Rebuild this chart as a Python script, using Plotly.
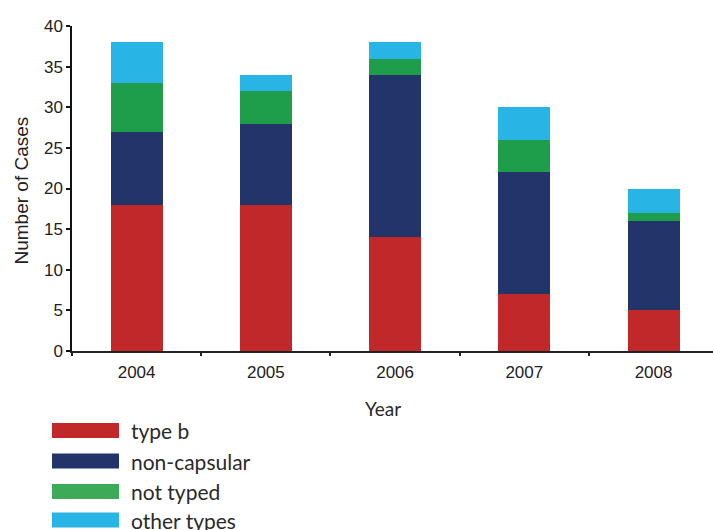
import plotly.graph_objects as go

# Cases by year, stacked by serotype group
years = ["2004", "2005", "2006", "2007", "2008"]
type_b = [18, 18, 14, 7, 5]
non_capsular = [9, 10, 20, 15, 11]
not_typed = [6, 4, 2, 4, 1]
other_types = [5, 2, 2, 4, 3]

series_names = ["type b", "non-capsular", "not typed", "other types"]
series_values = [type_b, non_capsular, not_typed, other_types]
series_colors = ["#C1282A", "#22346A", "#1E9E4A", "#28B4E4"]
legend_colors = ["#C1282A", "#22346A", "#3CAA56", "#28B4E4"]

y_ticks = [0, 5, 10, 15, 20, 25, 30, 35, 40]

W, H = 713, 530
L, R, T, B = 72, 0, 26, 179
plot_w = W - L - R
plot_h = H - T - B


def px_x(px):
    return (px - L) / plot_w


def px_y(py):
    return (H - B - py) / plot_h


fig = go.Figure()
for name, vals, col in zip(series_names, series_values, series_colors):
    fig.add_trace(go.Bar(
        x=years, y=vals, name=name,
        marker=dict(color=col, line=dict(width=0)),
        showlegend=False,
    ))

axis_font = dict(family="Liberation Sans, Arial, sans-serif", size=17, color="#222222")
label_font = dict(family="Lato, sans-serif", size=21, color="#2a2a2a")

fig.update_layout(
    width=W, height=H,
    margin=dict(l=L, r=R, t=T, b=B),
    paper_bgcolor="white", plot_bgcolor="white",
    barmode="stack", bargap=0.597,
    xaxis=dict(
        type="category", range=[-0.5, 4.46],
        showline=True, linecolor="#222222", linewidth=2,
        ticks="outside", tickson="boundaries", ticklen=3, tickwidth=2,
        tickcolor="#222222", tickfont=axis_font, ticklabelstandoff=5,
        showgrid=False, zeroline=False,
    ),
    yaxis=dict(
        range=[0, 40], tickvals=y_ticks,
        showline=True, linecolor="#111111", linewidth=1.5,
        ticks="outside", ticklen=4, tickwidth=1.5, tickcolor="#111111",
        tickfont=axis_font, showgrid=False, zeroline=False,
    ),
)

annotations = [
    dict(text="Number of Cases", textangle=-90,
         x=px_x(20.5), y=px_y(190), xref="paper", yref="paper",
         xanchor="center", yanchor="middle", showarrow=False,
         font=dict(family="Liberation Sans, Arial, sans-serif", size=19, color="#222222")),
    dict(text="Year", x=px_x(383), y=px_y(408), xref="paper", yref="paper",
         xanchor="center", yanchor="middle", showarrow=False,
         font=dict(family="Lato, sans-serif", size=19, color="#2a2a2a")),
]

# Custom legend: wide colour swatches with labels underneath the chart
shapes = []
row_centers = [430.5, 461, 491.5, 520]
for name, col, cy in zip(series_names, legend_colors, row_centers):
    shapes.append(dict(
        type="rect", xref="paper", yref="paper",
        x0=px_x(52), x1=px_x(119), y0=px_y(cy + 7.5), y1=px_y(cy - 7.5),
        fillcolor=col, line=dict(width=0),
    ))
    annotations.append(dict(
        text=name, x=px_x(129), y=px_y(cy), xref="paper", yref="paper",
        xanchor="left", yanchor="middle", showarrow=False, font=label_font,
    ))

fig.update_layout(annotations=annotations, shapes=shapes)
fig.write_html("out.html")
